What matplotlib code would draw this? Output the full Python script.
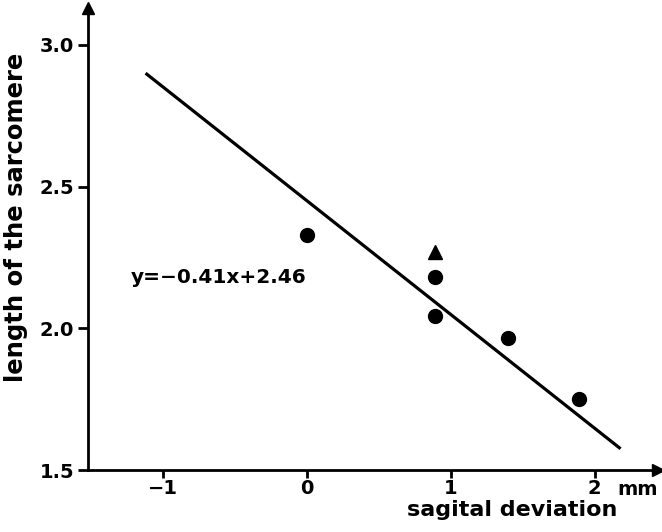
import matplotlib
matplotlib.use("Agg")
import matplotlib.pyplot as plt

# measured points (sagital deviation in mm, sarcomere length)
dev_x = [0.0, 0.89, 0.89, 1.40, 1.89]
sarc_y = [2.33, 2.18, 2.045, 1.965, 1.75]
tri_x = [0.89]
tri_y = [2.27]

# regression line as drawn
fit_x = [-1.12, 2.18]
fit_y = [2.90, 1.575]
equation = "y=\u22120.41x+2.46"

xticks = [-1, 0, 1, 2]
xticklabels = ["\u22121", "0", "1", "2"]
yticks = [1.5, 2.0, 2.5, 3.0]
yticklabels = ["1.5", "2.0", "2.5", "3.0"]

plt.rcParams['font.family'] = ['DejaVu Sans']
plt.rcParams['font.weight'] = 'bold'

fig = plt.figure(figsize=(6.62, 5.32), dpi=100)
ax = fig.add_axes([88 / 662, 62 / 532, 570 / 662, 462 / 532])

ax.plot(fit_x, fit_y, color='black', lw=2.3, solid_capstyle='butt')
ax.plot(dev_x, sarc_y, 'o', color='black', ms=10)
ax.plot(tri_x, tri_y, '^', color='black', ms=10)
ax.text(-1.22, 2.18, equation, fontsize=14.5, va='center', ha='left')

ax.set_xlim(-1.52, 2.44)
ax.set_ylim(1.5, 3.13)

for s in ['top', 'right']:
    ax.spines[s].set_visible(False)
for s in ['left', 'bottom']:
    ax.spines[s].set_linewidth(2)

# arrow heads on the axes
ax.plot(1, 0, '>', color='black', ms=8, transform=ax.transAxes, clip_on=False)
ax.plot(0, 1, '^', color='black', ms=8, transform=ax.transAxes, clip_on=False)

ax.set_xticks(xticks)
ax.set_xticklabels(xticklabels)
ax.set_yticks(yticks)
ax.set_yticklabels(yticklabels)
ax.tick_params(axis='both', direction='out', length=7, width=2, labelsize=14, pad=3)
ax.tick_params(axis='x', length=6, pad=0.5)

ax.annotate("mm", xy=(2.30, 0), xycoords=('data', 'axes fraction'),
            xytext=(0, -7), textcoords='offset points', ha='center', va='top',
            fontsize=14)

fig.text(512 / 662, (532 - 510) / 532, "sagital deviation", ha='center', va='center', fontsize=16)
fig.text(16 / 662, (532 - 217) / 532, "length of the sarcomere", rotation=90,
         ha='center', va='center', fontsize=17.5)

fig.savefig("out.png", dpi=100)
